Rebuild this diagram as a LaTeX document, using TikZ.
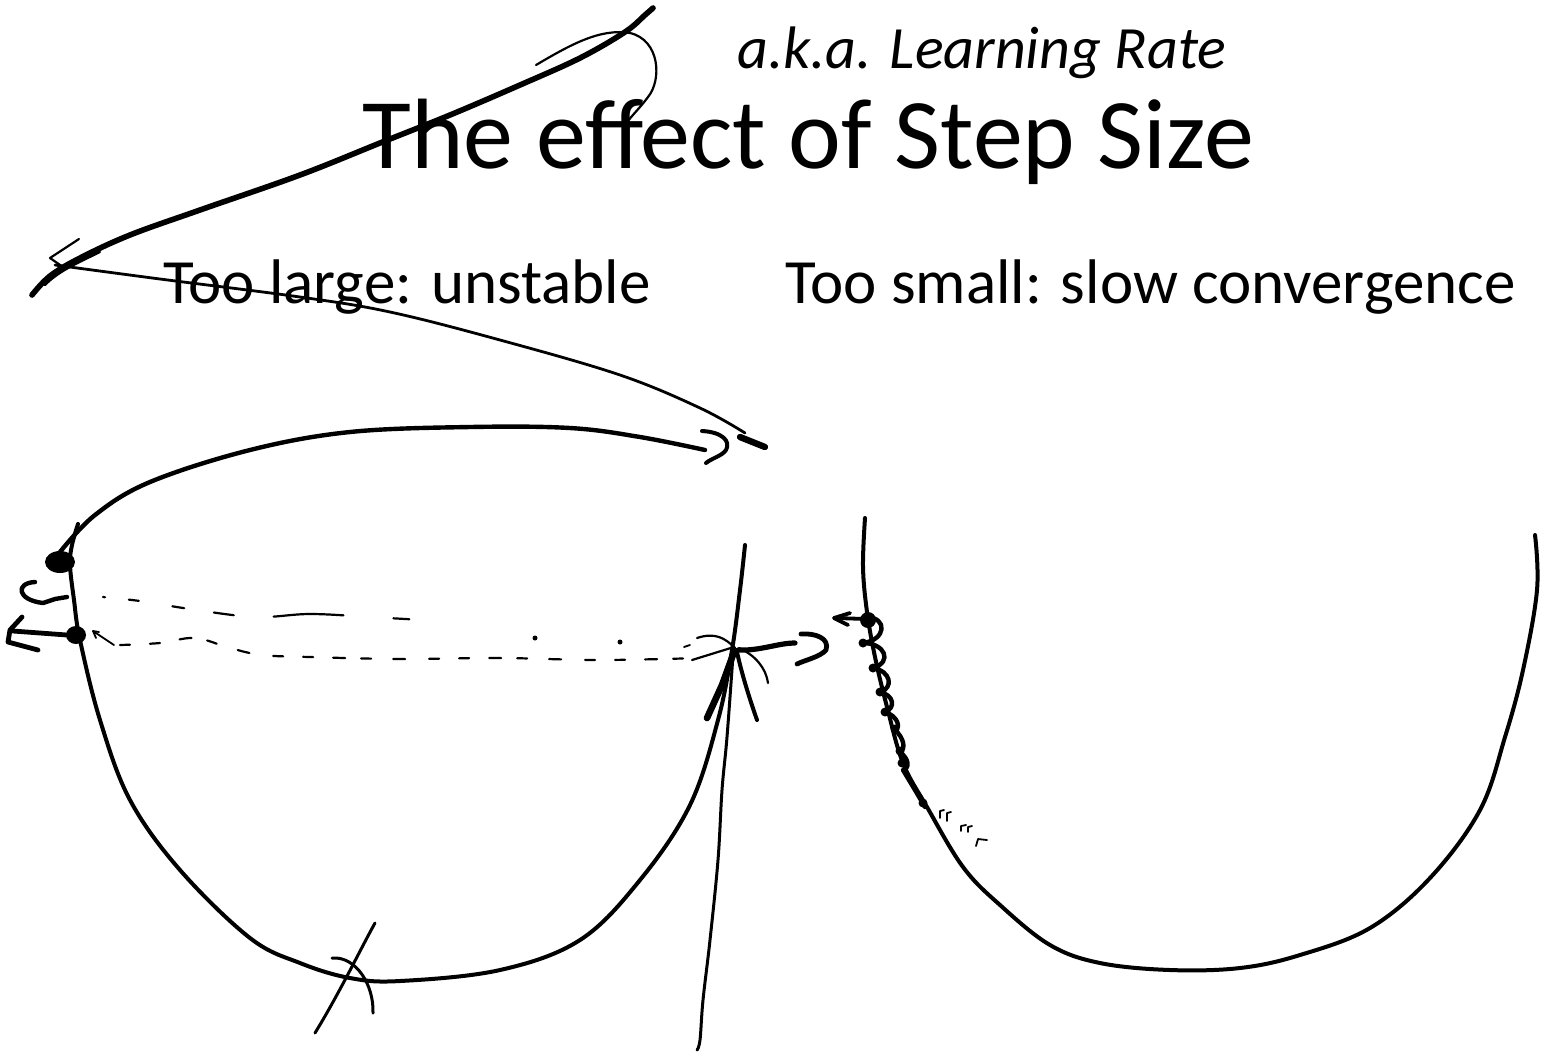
\documentclass[tikz,border=0pt]{standalone}
\usepackage{fontspec}
\setmainfont{Carlito}
\begin{document}
\begin{tikzpicture}[x=0.5pt,y=-0.5pt,
  pen/.style={line width=2pt,line cap=round,line join=round},
  fine/.style={line width=1.1pt,line cap=round,line join=round},
  heavy/.style={line width=2.8pt,line cap=round,line join=round},
  dashes/.style={line width=1.1pt,line cap=round},
  txt/.style={inner sep=0pt,anchor=base west}]
\useasboundingbox (0,0) rectangle (1550,1056);

% texts
\node[txt,font=\fontsize{50}{60}\selectfont] (title) at (362,168) {The effect of Step Size};
\node[txt,font=\itshape\fontsize{30}{36}\selectfont] (aka) at (737,68) {a.k.a. Learning Rate};
\node[txt,font=\fontsize{31.5}{38}\selectfont] (large) at (163,303) {Too large: unstable};
\node[txt,font=\fontsize{31.5}{38}\selectfont] (small) at (785,303) {Too small: slow convergence};

% left bowl
\draw[pen] plot[smooth,tension=0.6] coordinates {(78,524) (72,545) (70,565) (74,600) (80,640) (100,720) (130,800) (180,870) (250,938) (300,963) (350,978) (400,981) (500,970) (580,940) (640,880) (690,805) (718,720) (732,650) (740,590) (745,545)};
% right bowl
\draw[pen] plot[smooth,tension=0.6] coordinates {(865,518) (863,567) (867,612) (875,657) (887,707) (903,763) (927,807) (963,867) (1000,905) (1050,945) (1100,963) (1170,970) (1240,968) (1300,955) (1370,928) (1430,878) (1480,810) (1505,737) (1523,670) (1537,590) (1535,535)};

% big dots
\fill (60,562) ellipse [x radius=15,y radius=11];
\coordinate (d1) at (60,562);
\fill (76,635) ellipse [x radius=10,y radius=9];
\coordinate (d2) at (76,635);
\fill (868,620) circle (8);
\coordinate (d3) at (868,620);

% upper arc with hook
\draw[heavy,line width=2.2pt] plot[smooth,tension=0.6] coordinates {(60,552) (95,515) (150,482) (250,450) (350,432) (470,427) (570,428) (640,437) (705,450)};
\draw[pen] (702,431) .. controls (722,432) and (731,441) .. (726,450) .. controls (722,456) and (712,458) .. (706,463);

% long thin line (strikes through "Too large")
\draw[fine,line width=1.4pt] plot[smooth,tension=0.6] coordinates {(55,265) (160,279) (300,297) (390,312) (500,340) (620,375) (700,408) (745,433)};
\draw[heavy,line width=3.2pt] (740,437) -- (765,447);
\draw[fine] (79,239) -- (50,258) -- (63,267);

% big stroke to the top
\draw[heavy] plot[smooth,tension=0.6] coordinates {(32,295) (50,276) (80,258) (130,235) (200,210) (300,175) (380,143) (450,115) (520,85) (580,58) (625,32) (645,15) (653,8)};
\draw[fine] (45,285) .. controls (60,270) and (80,262) .. (100,252);
\draw[fine] (536,65) .. controls (570,45) and (600,28) .. (630,33) .. controls (660,40) and (662,80) .. (648,97) .. controls (640,108) and (632,115) .. (625,125);

% dashed traces
\draw[dashes,dash pattern=on 1pt off 12pt on 5pt off 17pt on 6pt off 15pt on 10pt off 20pt on 35pt off 25pt on 8pt off 40pt] plot[smooth,tension=0.6] coordinates {(103,597) (140,601) (190,609) (255,617) (310,614) (370,617) (440,621)};
\draw[dashes,dash pattern=on 5pt off 10pt on 5pt off 10pt on 6pt off 8pt on 5pt off 11pt on 6pt off 12pt] plot[smooth,tension=0.6] coordinates {(120,645) (160,643) (195,638) (230,648) (262,655) (310,657) (400,659) (500,658) (600,660) (700,658)};
\draw[fine,line width=0.9pt] (114,645) -- (93,631) -- (96,638);
\draw[fine,line width=0.9pt] (93,631) -- (99,632);
\fill (535,638) circle (2.5);
\fill (620,642) circle (2.5);
\draw[fine,line width=0.9pt] (684,647) -- (690,645);

% small arrows at left
\draw[pen,line width=2.2pt] (35,582) .. controls (15,583) and (17,600) .. (43,603) -- (55,599) -- (67,597);
\draw[pen,line width=2.4pt] (22,617) -- (10,630) -- (8,642) -- (38,650);
\draw[pen,line width=2.4pt] (13,631) -- (67,635);

% crossing at right of left bowl
\draw[pen,line width=1.5pt] plot[smooth,tension=0.6] coordinates {(697,1050) (700,1040) (703,1000) (710,940) (718,860) (722,790) (727,737) (733,655)};
\draw[heavy,line width=3.3pt] (707,718) -- (722,685) -- (734,652);
\draw[pen,line width=2pt] (757,720) .. controls (750,700) and (742,675) .. (737,652);
\draw[fine] (692,660) -- (734,647);
\draw[fine] (697,638) .. controls (715,632) and (725,638) .. (735,648);
\draw[fine] (768,683) .. controls (766,668) and (755,655) .. (739,648);
\draw[heavy,line width=2.6pt] (738,650) .. controls (760,651) and (778,643) .. (795,643);
\draw[heavy,line width=2.4pt] (801,634) .. controls (815,633) and (830,638) .. (826,650) .. controls (820,657) and (805,660) .. (797,664);

% right bowl: small arrow and loops
\draw[pen,line width=1.9pt] (850,613) -- (834,618) -- (848,625);
\draw[pen,line width=1.9pt] (836,618) -- (866,619);
\draw[pen,line width=2.2pt] (867,617) .. controls (888,618) and (886,640) .. (863,643)
  .. controls (885,643) and (893,662) .. (873,668)
  .. controls (891,671) and (894,688) .. (880,692)
  .. controls (894,695) and (896,708) .. (885,712)
  .. controls (898,716) and (901,728) .. (895,730)
  .. controls (904,738) and (906,749) .. (900,752)
  .. controls (909,759) and (910,768) .. (903,770)
  -- (915,790) -- (925,807);
\foreach \p in {(863,643),(873,668),(880,692),(885,712),(895,729),(900,751),(902,763),(923,803)}
  \fill \p circle (4.5);
\draw[fine,line width=0.9pt] (940,818) -- (940,811) -- (944,810);
\draw[fine,line width=0.9pt] (947,821) -- (947,813) -- (951,812);
\draw[fine,line width=0.9pt] (961,831) -- (961,826) -- (966,825);
\draw[fine,line width=0.9pt] (968,832) -- (968,827) -- (972,826);
\draw[fine,line width=0.9pt] (976,846) -- (978,839) -- (987,840);

% bottom X on left bowl
\draw[fine,line width=1.5pt] (315,1033) .. controls (340,992) and (360,950) .. (375,923);
\draw[fine,line width=1.5pt] (332,958) .. controls (356,956) and (374,985) .. (373,1013);
\end{tikzpicture}
\end{document}
